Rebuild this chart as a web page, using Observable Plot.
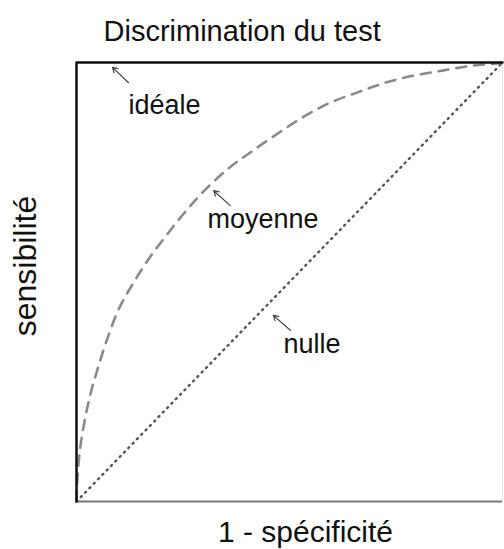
<!DOCTYPE html>
<html>
<head>
<meta charset="utf-8">
<script src="https://cdn.jsdelivr.net/npm/d3@7"></script>
<script src="https://cdn.jsdelivr.net/npm/@observablehq/plot@0.6"></script>
<style>
  html, body { margin: 0; padding: 0; background: white; }
</style>
</head>
<body>
<div id="chart"></div>
<script>
// Title and axis labels
const title = "Discrimination du test";
const xLabel = "1 - spécificité";
const yLabel = "sensibilité";

// "moyenne" curve: x = 1 - spécificité, y = sensibilité
const moyX = [0, 0.002, 0.007, 0.018, 0.033, 0.050, 0.071, 0.100, 0.133, 0.172, 0.214, 0.258, 0.300, 0.357, 0.408, 0.472, 0.531, 0.592, 0.660, 0.725, 0.791, 0.862, 0.930, 0.988, 1];
const moyY = [0, 0.048, 0.109, 0.178, 0.246, 0.303, 0.367, 0.440, 0.497, 0.556, 0.610, 0.663, 0.708, 0.759, 0.795, 0.838, 0.875, 0.907, 0.932, 0.954, 0.970, 0.982, 0.993, 0.998, 1];

// "idéale" curve
const idealX = [0, 0, 1];
const idealY = [0, 1, 1];

// "nulle" curve (diagonal)
const nullX = [0, 1];
const nullY = [0, 1];

// Annotation labels and arrow positions (data units)
const annLabels = ["idéale", "moyenne", "nulle"];
const annLabelX = [0.122, 0.3075, 0.486];
const annLabelY = [0.903, 0.642, 0.359];
const arrowTailX = [0.122, 0.361, 0.502];
const arrowTailY = [0.954, 0.674, 0.390];
const arrowTipX = [0.0845, 0.322, 0.462];
const arrowTipY = [0.989, 0.708, 0.424];

const moy = moyX.map((x, i) => ({x, y: moyY[i]}));
const ideal = idealX.map((x, i) => ({x, y: idealY[i]}));
const nul = nullX.map((x, i) => ({x, y: nullY[i]}));
const ann = annLabels.map((t, i) => ({
  t, lx: annLabelX[i], ly: annLabelY[i],
  x1: arrowTailX[i], y1: arrowTailY[i], x2: arrowTipX[i], y2: arrowTipY[i]
}));

const chart = Plot.plot({
  width: 504,
  height: 549,
  marginTop: 62,
  marginRight: 2,
  marginBottom: 48,
  marginLeft: 76,
  x: {domain: [0, 1], axis: null},
  y: {domain: [0, 1], axis: null},
  style: {fontFamily: "'Liberation Sans', Arial, sans-serif", background: "white", color: "#111"},
  marks: [
    Plot.ruleX([1], {stroke: "#e4e4e4", strokeWidth: 1}),
    Plot.ruleY([0], {stroke: "#777", strokeWidth: 2}),
    Plot.line(nul, {x: "x", y: "y", stroke: "#555", strokeWidth: 2.4, strokeDasharray: "1.2,5", strokeLinecap: "round"}),
    Plot.line(moy, {x: "x", y: "y", curve: "catmull-rom", stroke: "#8a8a8a", strokeWidth: 2.6, strokeDasharray: "10,8"}),
    Plot.line(ideal, {x: "x", y: "y", stroke: "#111", strokeWidth: 2.5}),
    Plot.arrow(ann, {x1: "x1", y1: "y1", x2: "x2", y2: "y2", stroke: "#444", strokeWidth: 1.2, headLength: 7}),
    Plot.text(ann, {x: "lx", y: "ly", text: "t", textAnchor: "start", lineAnchor: "middle", fontSize: 27, fill: "#111"}),
    Plot.text([title], {frameAnchor: "top-left", text: d => d, textAnchor: "start", lineAnchor: "middle", dx: 27, dy: -31, fontSize: 29, fill: "#111"}),
    Plot.text([xLabel], {frameAnchor: "bottom", text: d => d, textAnchor: "middle", lineAnchor: "middle", dx: 16, dy: 31, fontSize: 30, fill: "#111"}),
    Plot.text([yLabel], {frameAnchor: "left", text: d => d, textAnchor: "middle", lineAnchor: "middle", rotate: -90, dx: -51, dy: -16, fontSize: 32, fill: "#111"})
  ]
});
document.getElementById("chart").appendChild(chart);
</script>
</body>
</html>
